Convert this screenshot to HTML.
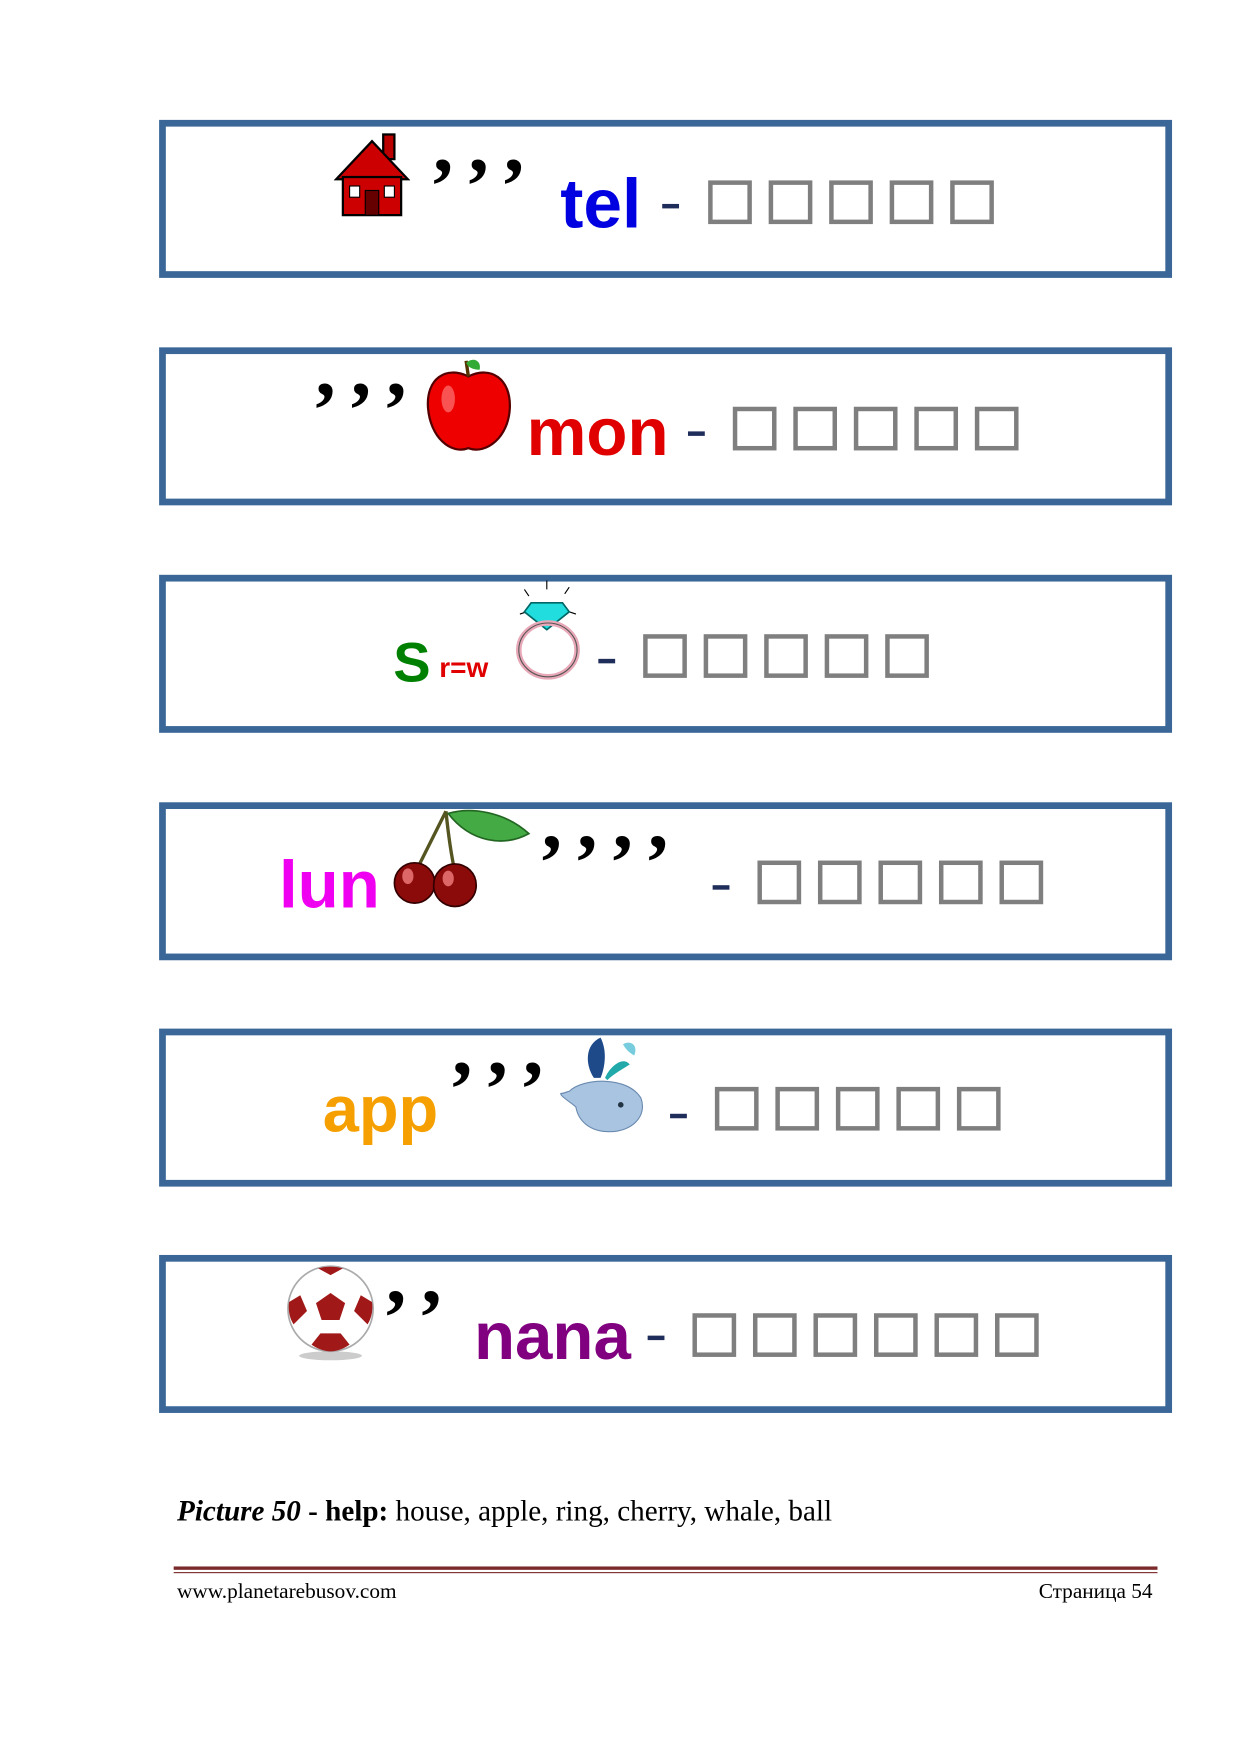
<!DOCTYPE html>
<html><head><meta charset="utf-8"><style>
html,body{margin:0;padding:0;background:#fff;}
body{width:1240px;height:1754px;overflow:hidden;position:relative;}
#w{position:absolute;left:0;top:0;width:1100px;height:1556px;transform:scale(1.1205);transform-origin:0 0;}
.box{position:absolute;left:142px;width:892px;height:129px;border:6px solid #3a6798;}
.a{position:absolute;}
.t{position:absolute;font-family:"Liberation Sans",sans-serif;font-weight:bold;line-height:1;white-space:nowrap;}
.sq{position:absolute;width:31px;height:31px;border:4px solid #7f7f7f;background:#fff;}
.cm{position:absolute;font-family:"Liberation Serif",serif;font-weight:bold;font-size:72px;line-height:1;letter-spacing:13px;color:#000;}
.dash{position:absolute;width:15px;height:4px;background:#1f2d5a;}
</style></head><body><div id="w">

<div class="box" style="top:107px"></div>
<div class="box" style="top:310px"></div>
<div class="box" style="top:513px"></div>
<div class="box" style="top:716px"></div>
<div class="box" style="top:918px"></div>
<div class="box" style="top:1120px"></div>

<!-- Row 1 -->
<svg class="a" style="left:298px;top:118px" width="68" height="76" viewBox="0 0 68 76">
<rect x="44" y="2" width="10" height="22" fill="#b00" stroke="#000" stroke-width="2"/>
<polygon points="34,8 2,42 66,42" fill="#c00" stroke="#000" stroke-width="2"/>
<rect x="8" y="40" width="52" height="34" fill="#c00" stroke="#000" stroke-width="2"/>
<rect x="28" y="52" width="12" height="22" fill="#600" stroke="#000"/>
<rect x="14" y="48" width="9" height="10" fill="#fff" stroke="#000"/>
<rect x="45" y="48" width="9" height="10" fill="#fff" stroke="#000"/>
</svg>
<div class="cm" style="left:383px;top:130px">’’’</div>
<div class="t" style="left:500px;top:152px;font-size:62px;color:#0000e0">tel</div>
<div class="dash" style="left:591px;top:182px"></div>
<div class="sq" style="left:632px;top:161px"></div>
<div class="sq" style="left:686px;top:161px"></div>
<div class="sq" style="left:740px;top:161px"></div>
<div class="sq" style="left:794px;top:161px"></div>
<div class="sq" style="left:848px;top:161px"></div>

<!-- Row 2 -->
<div class="cm" style="left:278px;top:330px">’’’</div>
<svg class="a" style="left:378px;top:318px" width="80" height="88" viewBox="0 0 80 88">
<path d="M40 18 C20 8 2 20 4 46 C6 72 24 88 40 82 C56 88 76 72 77 46 C78 20 60 8 40 18Z" fill="#e00" stroke="#500" stroke-width="2"/>
<ellipse cx="22" cy="38" rx="6" ry="12" fill="#f88" opacity=".6"/>
<path d="M40 18 L38 4" stroke="#530" stroke-width="3"/>
<path d="M38 6 C44 0 52 4 50 12 C44 12 40 10 38 6Z" fill="#3a3"/>
</svg>
<div class="t" style="left:470px;top:356px;font-size:60px;color:#e00000">mon</div>
<div class="dash" style="left:614px;top:385px"></div>
<div class="sq" style="left:654px;top:363px"></div>
<div class="sq" style="left:708px;top:363px"></div>
<div class="sq" style="left:762px;top:363px"></div>
<div class="sq" style="left:816px;top:363px"></div>
<div class="sq" style="left:870px;top:363px"></div>

<!-- Row 3 -->
<div class="t" style="left:351px;top:566px;font-size:50px;color:#008000">S</div>
<div class="t" style="left:392px;top:584px;font-size:25px;color:#e00000">r=w</div>
<svg class="a" style="left:458px;top:518px" width="62" height="90" viewBox="0 0 62 90">
<g stroke="#000" stroke-width="1"><line x1="10" y1="8" x2="14" y2="14"/><line x1="30" y1="0" x2="30" y2="8"/><line x1="50" y1="6" x2="46" y2="12"/><line x1="6" y1="30" x2="12" y2="28"/><line x1="56" y1="30" x2="50" y2="28"/></g>
<polygon points="16,20 44,20 50,28 30,44 10,28" fill="#2dd" stroke="#066" stroke-width="1.5"/>
<ellipse cx="31" cy="62" rx="26" ry="24" fill="none" stroke="#e8a8b8" stroke-width="5"/>
<ellipse cx="31" cy="62" rx="26" ry="24" fill="none" stroke="#555" stroke-width="1"/>
</svg>
<div class="dash" style="left:534px;top:588px"></div>
<div class="sq" style="left:574px;top:566px"></div>
<div class="sq" style="left:628px;top:566px"></div>
<div class="sq" style="left:682px;top:566px"></div>
<div class="sq" style="left:736px;top:566px"></div>
<div class="sq" style="left:790px;top:566px"></div>

<!-- Row 4 -->
<div class="t" style="left:249px;top:760px;font-size:60px;color:#f000f0">lun</div>
<svg class="a" style="left:350px;top:720px" width="124" height="90" viewBox="0 0 124 90">
<path d="M48 4 C40 20 30 40 22 56 M48 4 C50 24 52 40 56 58" stroke="#552" stroke-width="3" fill="none"/>
<path d="M50 6 C70 0 100 4 122 24 C100 36 70 32 50 6Z" fill="#4a4" stroke="#262" stroke-width="1.5"/>
<circle cx="20" cy="68" r="18" fill="#8b0a0a" stroke="#300" stroke-width="1.5"/>
<circle cx="56" cy="70" r="19" fill="#8b0a0a" stroke="#300" stroke-width="1.5"/>
<ellipse cx="14" cy="62" rx="5" ry="7" fill="#d66"/>
<ellipse cx="50" cy="64" rx="5" ry="7" fill="#d66"/>
</svg>
<div class="cm" style="left:480px;top:734px">’’’’</div>
<div class="dash" style="left:636px;top:790px"></div>
<div class="sq" style="left:676px;top:768px"></div>
<div class="sq" style="left:730px;top:768px"></div>
<div class="sq" style="left:784px;top:768px"></div>
<div class="sq" style="left:838px;top:768px"></div>
<div class="sq" style="left:892px;top:768px"></div>

<!-- Row 5 -->
<div class="t" style="left:288px;top:962px;font-size:58px;color:#f5a000">app</div>
<div class="cm" style="left:400px;top:936px">’’’</div>
<svg class="a" style="left:500px;top:922px" width="82" height="90" viewBox="0 0 82 90">
<path d="M30 40 C22 28 22 10 36 4 C42 16 40 30 36 40Z" fill="#1e4a8a"/>
<path d="M40 40 C44 30 56 20 62 28 C56 32 48 36 42 42Z" fill="#2aa"/>
<path d="M56 10 C62 6 70 10 66 20 C62 18 58 14 56 10Z" fill="#7cd"/>
<path d="M8 52 C20 40 60 38 72 58 C78 74 64 88 44 88 C26 88 16 78 14 66 C10 62 2 58 0 54 C4 54 6 52 8 52Z" fill="#a9c4e0" stroke="#6a8ab0"/>
<circle cx="54" cy="64" r="2.5" fill="#234"/>
</svg>
<div class="dash" style="left:598px;top:994px"></div>
<div class="sq" style="left:638px;top:970px"></div>
<div class="sq" style="left:692px;top:970px"></div>
<div class="sq" style="left:746px;top:970px"></div>
<div class="sq" style="left:800px;top:970px"></div>
<div class="sq" style="left:854px;top:970px"></div>

<!-- Row 6 -->
<svg class="a" style="left:254px;top:1126px" width="82" height="90" viewBox="0 0 82 90">
<ellipse cx="41" cy="84" rx="28" ry="4" fill="#ccc"/>
<circle cx="41" cy="42" r="38" fill="#fff" stroke="#aaa" stroke-width="1.5"/>
<polygon points="41,28 54,37 49,52 33,52 28,37" fill="#a01818"/>
<path d="M30 6 L41 12 L52 6 C46 4 36 4 30 6Z" fill="#a01818"/>
<path d="M4 36 L14 30 L20 44 L8 56 C4 50 3 42 4 36Z" fill="#a01818"/>
<path d="M78 36 L68 30 L62 44 L74 56 C78 50 79 42 78 36Z" fill="#a01818"/>
<path d="M24 74 L32 64 L50 64 L58 74 C46 82 36 82 24 74Z" fill="#a01818"/>
</svg>
<div class="cm" style="left:341px;top:1140px">’’</div>
<div class="t" style="left:423px;top:1163px;font-size:60px;color:#800080">nana</div>
<div class="dash" style="left:578px;top:1192px"></div>
<div class="sq" style="left:618px;top:1172px"></div>
<div class="sq" style="left:672px;top:1172px"></div>
<div class="sq" style="left:726px;top:1172px"></div>
<div class="sq" style="left:780px;top:1172px"></div>
<div class="sq" style="left:834px;top:1172px"></div>
<div class="sq" style="left:888px;top:1172px"></div>

<div class="a" style="left:158px;top:1334px;font-family:'Liberation Serif',serif;font-size:26px;white-space:nowrap"><b><i>Picture 50</i> - help:</b> house, apple, ring, cherry, whale, ball</div>
<div class="a" style="left:155px;top:1398px;width:878px;height:3px;background:#7a2a2a"></div>
<div class="a" style="left:155px;top:1403px;width:878px;height:1px;background:#7a2a2a"></div>
<div class="a" style="left:158px;top:1410px;font-family:'Liberation Serif',serif;font-size:19px">www.planetarebusov.com</div>
<div class="a" style="left:927px;top:1410px;font-family:'Liberation Serif',serif;font-size:19px">Страница 54</div>
</div></body></html>
